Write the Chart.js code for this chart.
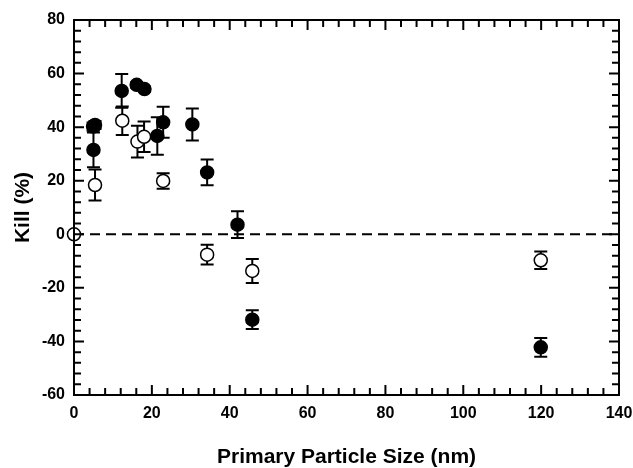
<!DOCTYPE html>
<html>
<head>
<meta charset="utf-8">
<script src="https://cdn.jsdelivr.net/npm/chart.js@4.4.1/dist/chart.umd.min.js"></script>
<style>
  html, body { margin: 0; padding: 0; background: #fff; }
  #wrap { width: 633px; height: 468px; }
</style>
</head>
<body>
<div id="wrap"><canvas id="kill"></canvas></div>
<script>
// filled circles
const filledX   = [4.9, 5.4, 5, 12.25, 16.1, 18.1, 21.4, 22.9, 30.4, 34.2, 42, 45.8, 119.9];
const filledY   = [40.2, 40.8, 31.5, 53.5, 55.8, 54.2, 36.7, 41.8, 41, 23.1, 3.6, -31.9, -42.2];
const filledErr = [1.5, 1.5, 6.5, 6.3, 1, 1, 7, 5.8, 6, 4.8, 5, 3.5, 3.5];

// open circles
const openX   = [0, 5.4, 12.4, 16.3, 18, 22.9, 34.2, 45.8, 119.9];
const openY   = [0, 18.4, 42.4, 34.6, 36.4, 19.9, -7.6, -13.7, -9.7];
const openErr = [0, 5.8, 5.3, 5.9, 5.7, 2.9, 3.7, 4.5, 3.3];

const xTicks = [0, 20, 40, 60, 80, 100, 120, 140];
const yTicks = [-60, -40, -20, 0, 20, 40, 60, 80];

function pts(xs, ys, es) {
  let out = [];
  for (let i = 0; i < xs.length; i++) out.push({x: xs[i], y: ys[i], err: es[i]});
  return out;
}

const FONT = "'Liberation Sans', Arial, Helvetica, sans-serif";

// error bars under the markers
const errorBars = {
  id: 'errorBars',
  beforeDatasetsDraw(chart) {
    const ctx = chart.ctx;
    const xs = chart.scales.x, ys = chart.scales.y;
    ctx.save();
    ctx.strokeStyle = '#000';
    ctx.lineWidth = 2;
    chart.data.datasets.forEach(ds => {
      if (!ds.errBars) return;
      ds.data.forEach(p => {
        if (!p.err) return;
        const px = xs.getPixelForValue(p.x);
        const top = ys.getPixelForValue(p.y + p.err);
        const bot = ys.getPixelForValue(p.y - p.err);
        ctx.beginPath();
        ctx.moveTo(px, top); ctx.lineTo(px, bot);
        ctx.moveTo(px - 6.5, top); ctx.lineTo(px + 6.5, top);
        ctx.moveTo(px - 6.5, bot); ctx.lineTo(px + 6.5, bot);
        ctx.stroke();
      });
    });
    ctx.restore();
  }
};

// box + inward ticks on all four sides
const frame = {
  id: 'frame',
  afterDraw(chart) {
    const ctx = chart.ctx;
    const a = chart.chartArea;
    const xs = chart.scales.x, ys = chart.scales.y;
    ctx.save();
    ctx.strokeStyle = '#000';
    ctx.lineWidth = 2;
    ctx.strokeRect(a.left, a.top, a.right - a.left, a.bottom - a.top);
    ctx.beginPath();
    for (let v = xs.min; v <= xs.max; v += 4) {
      const px = xs.getPixelForValue(v);
      const len = v % 20 === 0 ? 10 : 7;
      ctx.moveTo(px, a.bottom); ctx.lineTo(px, a.bottom - len);
      ctx.moveTo(px, a.top); ctx.lineTo(px, a.top + len);
    }
    for (let v = ys.min; v <= ys.max; v += 4) {
      const py = ys.getPixelForValue(v);
      const len = v % 20 === 0 ? 10 : 7;
      ctx.moveTo(a.left, py); ctx.lineTo(a.left + len, py);
      ctx.moveTo(a.right, py); ctx.lineTo(a.right - len, py);
    }
    ctx.stroke();
    ctx.restore();
  }
};

new Chart(document.getElementById('kill').getContext('2d'), {
  type: 'scatter',
  data: {
    datasets: [
      {
        label: 'zero',
        data: [{x: 0, y: 0}, {x: 140, y: 0}],
        showLine: true,
        borderColor: '#000',
        borderWidth: 2,
        borderDash: [10, 6],
        pointRadius: 0,
        order: 3
      },
      {
        label: 'open',
        data: pts(openX, openY, openErr),
        errBars: true,
        pointRadius: 6.5,
        pointBackgroundColor: '#fff',
        pointBorderColor: '#000',
        pointBorderWidth: 1.5,
        clip: false,
        order: 2
      },
      {
        label: 'filled',
        data: pts(filledX, filledY, filledErr),
        errBars: true,
        pointRadius: 6.5,
        pointBackgroundColor: '#000',
        pointBorderColor: '#000',
        pointBorderWidth: 1.5,
        clip: false,
        order: 1
      }
    ]
  },
  options: {
    responsive: true,
    maintainAspectRatio: false,
    animation: false,
    events: [],
    layout: { padding: { left: 0, right: 14, top: 20, bottom: 0 } },
    plugins: { legend: { display: false }, tooltip: { enabled: false } },
    scales: {
      x: {
        type: 'linear',
        min: 0, max: 140,
        afterBuildTicks: s => { s.ticks = xTicks.map(v => ({value: v})); },
        afterFit: s => { s.height = 73; s.paddingLeft = 0; s.paddingRight = 0; },
        grid: { display: false, drawTicks: false },
        border: { display: false },
        ticks: { color: '#000', padding: 9, maxRotation: 0, font: { family: FONT, size: 16, weight: 'bold' } },
        title: {
          display: true, text: 'Primary Particle Size (nm)', color: '#000',
          padding: { top: 0, bottom: -2 },
          font: { family: FONT, size: 21, weight: 'bold' }
        }
      },
      y: {
        type: 'linear',
        min: -60, max: 80,
        afterBuildTicks: s => { s.ticks = yTicks.map(v => ({value: v})); },
        afterFit: s => { s.width = 74; s.paddingTop = 0; s.paddingBottom = 0; },
        grid: { display: false, drawTicks: false },
        border: { display: false },
        ticks: { color: '#000', padding: 9, font: { family: FONT, size: 16, weight: 'bold' } },
        title: {
          display: true, text: 'Kill (%)', color: '#000',
          padding: { top: 11, bottom: 0 },
          font: { family: FONT, size: 21, weight: 'bold' }
        }
      }
    }
  },
  plugins: [errorBars, frame]
});
</script>
</body>
</html>
